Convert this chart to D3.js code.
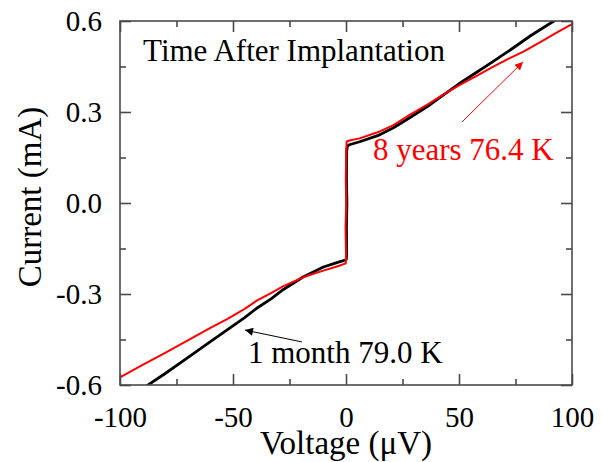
<!DOCTYPE html>
<html>
<head>
<meta charset="utf-8">
<script src="https://cdn.jsdelivr.net/npm/d3@7"></script>
<style>
  body { margin: 0; background: #fff; }
  svg text { font-family: "Liberation Serif", "Times New Roman", serif; }
</style>
</head>
<body>
<div id="chart"></div>
<script>
// axis ticks
var voltageTicks = [-100, -50, 0, 50, 100];
var voltageTickLabels = ["-100", "-50", "0", "50", "100"];
var voltageMinor = [-75, -25, 25, 75];
var currentTicks = [-0.6, -0.3, 0, 0.3, 0.6];
var currentTickLabels = ["-0.6", "-0.3", "0.0", "0.3", "0.6"];
var currentMinor = [-0.45, -0.15, 0.15, 0.45];

// 1 month, 79.0 K  (black)
var monthV = [-90, -80, -70, -60, -51, -45, -39.5, -33, -27.7, -19, -10, -3, 0.1,
  0.3, 0.2, 0.4, 0.2, 0.3, 0.6, 1.5, 6, 14, 21, 28, 36, 43, 50, 58, 65, 73, 82, 92, 95];
var monthI = [-0.612, -0.562, -0.510, -0.457, -0.410, -0.379, -0.347, -0.315, -0.285, -0.244, -0.211, -0.194, -0.187,
  -0.17, -0.08, 0.0, 0.08, 0.17, 0.188, 0.192, 0.202, 0.222, 0.248, 0.280, 0.318, 0.356, 0.393, 0.432, 0.466, 0.506, 0.553, 0.600, 0.615];

// 8 years, 76.4 K  (red)
var yearsV = [-100, -90, -80, -70, -60, -52.8, -45, -39.5, -33, -27.7, -19, -10, -3, -0.1,
  0.0, -0.2, 0.1, -0.1, 0.1, 0.3, 2, 6, 14, 21, 28, 36, 43, 50, 58, 65, 72, 78.5, 86, 93, 100];
var yearsI = [-0.575, -0.534, -0.494, -0.453, -0.412, -0.384, -0.350, -0.322, -0.296, -0.274, -0.245, -0.223, -0.207, -0.199,
  -0.17, -0.08, 0.0, 0.08, 0.17, 0.203, 0.207, 0.213, 0.233, 0.257, 0.290, 0.324, 0.357, 0.388, 0.420, 0.449, 0.476, 0.499, 0.530, 0.561, 0.590];

var w = 602, h = 462;
var margin = {left: 120, right: 30, top: 21, bottom: 77};

var svg = d3.select("#chart").append("svg").attr("width", w).attr("height", h);

var x = d3.scaleLinear().domain([-100, 100]).range([margin.left, w - margin.right]);
var y = d3.scaleLinear().domain([-0.6, 0.6]).range([h - margin.bottom, margin.top]);

var frameColor = "#4a4a4a";
var plotBottom = h - margin.bottom, plotTop = margin.top,
    plotLeft = margin.left, plotRight = w - margin.right;

// clip for curves
svg.append("clipPath").attr("id", "plot")
  .append("rect")
  .attr("x", plotLeft).attr("y", plotTop)
  .attr("width", plotRight - plotLeft).attr("height", plotBottom - plotTop);

function pairs(vs, is) {
  return vs.map(function(v, i) { return [v, is[i]]; });
}

var line = d3.line()
  .x(function(d) { return x(d[0]); })
  .y(function(d) { return y(d[1]); });

var curves = svg.append("g").attr("clip-path", "url(#plot)");
curves.append("path")
  .attr("d", line(pairs(monthV, monthI)))
  .attr("fill", "none").attr("stroke", "#000").attr("stroke-width", 2.8)
  .attr("stroke-linejoin", "round");
curves.append("path")
  .attr("d", line(pairs(yearsV, yearsI)))
  .attr("fill", "none").attr("stroke", "#f00").attr("stroke-width", 2)
  .attr("stroke-linejoin", "round");

/* axes, ticks pointing inward on all four sides */
function styleAxis(g) {
  g.select(".domain").remove();
  g.selectAll(".tick line").attr("stroke", frameColor).attr("stroke-width", 1.6);
  g.selectAll(".tick text").attr("fill", "#000").attr("font-size", 29)
    .attr("font-family", '"Liberation Serif", serif');
}

svg.append("g").attr("transform", "translate(0," + plotBottom + ")")
  .call(d3.axisBottom(x).tickValues(voltageTicks).tickSize(-11).tickPadding(21)
    .tickFormat(function(d, i) { return voltageTickLabels[i]; }))
  .call(styleAxis);
svg.append("g").attr("transform", "translate(0," + plotBottom + ")")
  .call(d3.axisBottom(x).tickValues(voltageMinor).tickSize(-6).tickFormat(""))
  .call(styleAxis);
svg.append("g").attr("transform", "translate(0," + plotTop + ")")
  .call(d3.axisTop(x).tickValues(voltageTicks).tickSize(-11).tickFormat(""))
  .call(styleAxis);
svg.append("g").attr("transform", "translate(0," + plotTop + ")")
  .call(d3.axisTop(x).tickValues(voltageMinor).tickSize(-6).tickFormat(""))
  .call(styleAxis);

svg.append("g").attr("transform", "translate(" + plotLeft + ",0)")
  .call(d3.axisLeft(y).tickValues(currentTicks).tickSize(-11).tickPadding(18)
    .tickFormat(function(d, i) { return currentTickLabels[i]; }))
  .call(styleAxis);
svg.append("g").attr("transform", "translate(" + plotLeft + ",0)")
  .call(d3.axisLeft(y).tickValues(currentMinor).tickSize(-6).tickFormat(""))
  .call(styleAxis);
svg.append("g").attr("transform", "translate(" + plotRight + ",0)")
  .call(d3.axisRight(y).tickValues(currentTicks).tickSize(-11).tickFormat(""))
  .call(styleAxis);
svg.append("g").attr("transform", "translate(" + plotRight + ",0)")
  .call(d3.axisRight(y).tickValues(currentMinor).tickSize(-6).tickFormat(""))
  .call(styleAxis);

// frame
svg.append("rect")
  .attr("x", plotLeft).attr("y", plotTop)
  .attr("width", plotRight - plotLeft).attr("height", plotBottom - plotTop)
  .attr("fill", "none").attr("stroke", frameColor).attr("stroke-width", 1.6);

// axis titles
svg.append("text")
  .attr("x", (plotLeft + plotRight) / 2).attr("y", 454)
  .attr("text-anchor", "middle").attr("font-size", 33)
  .text("Voltage (\u03bcV)");
svg.append("text")
  .attr("transform", "translate(41," + ((plotTop + plotBottom) / 2 - 6) + ") rotate(-90)")
  .attr("text-anchor", "middle").attr("font-size", 33)
  .text("Current (mA)");

// annotations
svg.append("text")
  .attr("x", x(-89.8)).attr("y", y(0.468))
  .attr("font-size", 31).attr("fill", "#000")
  .text("Time After Implantation");

svg.append("text")
  .attr("x", x(11.9)).attr("y", y(0.142))
  .attr("font-size", 31).attr("fill", "#f00")
  .text("8 years 76.4 K");

svg.append("text")
  .attr("x", x(-43.4)).attr("y", y(-0.528))
  .attr("font-size", 31).attr("fill", "#000")
  .text("1 month 79.0 K");

// arrows
var defs = svg.append("defs");
function marker(id, color) {
  defs.append("marker").attr("id", id)
    .attr("viewBox", "0 0 10 10").attr("refX", 10).attr("refY", 5)
    .attr("markerWidth", 12).attr("markerHeight", 8)
    .attr("markerUnits", "userSpaceOnUse")
    .attr("orient", "auto")
    .append("path").attr("d", "M0,0L10,5L0,10Z").attr("fill", color);
}
marker("arrRed", "#f00");
marker("arrBlack", "#000");

svg.append("line")
  .attr("x1", x(51.3)).attr("y1", y(0.267))
  .attr("x2", x(78.3)).attr("y2", y(0.465))
  .attr("stroke", "#f00").attr("stroke-width", 1)
  .attr("marker-end", "url(#arrRed)");

svg.append("line")
  .attr("x1", x(-19.5)).attr("y1", y(-0.458))
  .attr("x2", x(-44.7)).attr("y2", y(-0.419))
  .attr("stroke", "#000").attr("stroke-width", 1)
  .attr("marker-end", "url(#arrBlack)");
</script>
</body>
</html>
